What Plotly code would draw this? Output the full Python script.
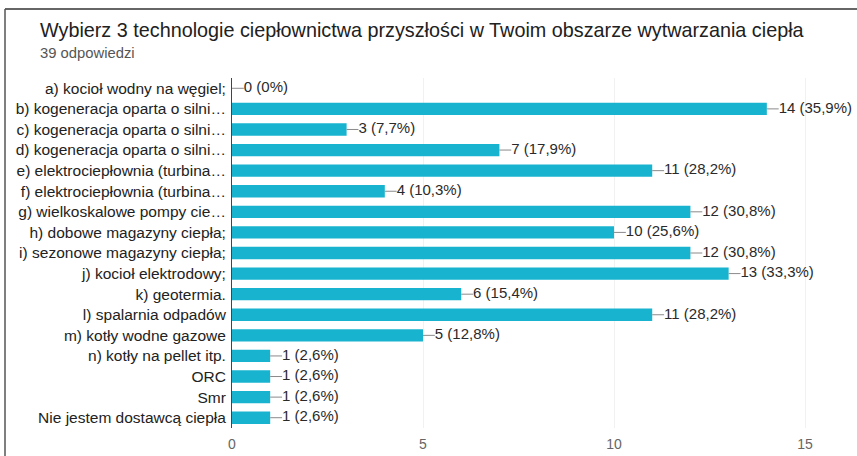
import plotly.graph_objects as go

title = "Wybierz 3 technologie ciepłownictwa przyszłości w Twoim obszarze wytwarzania ciepła"
subtitle = "39 odpowiedzi"
total = 39

categories = [
    "a) kocioł wodny na węgiel;",
    "b) kogeneracja oparta o silni…",
    "c) kogeneracja oparta o silni…",
    "d) kogeneracja oparta o silni…",
    "e) elektrociepłownia (turbina…",
    "f) elektrociepłownia (turbina…",
    "g) wielkoskalowe pompy cie…",
    "h) dobowe magazyny ciepła;",
    "i) sezonowe magazyny ciepła;",
    "j) kocioł elektrodowy;",
    "k) geotermia.",
    "l) spalarnia odpadów",
    "m) kotły wodne gazowe",
    "n) kotły na pellet itp.",
    "ORC",
    "Smr",
    "Nie jestem dostawcą ciepła",
]
values = [0, 14, 3, 7, 11, 4, 12, 10, 12, 13, 6, 11, 5, 1, 1, 1, 1]
x_ticks = [0, 5, 10, 15]


def pct(v):
    p = round(v / total * 100, 1)
    s = str(int(p)) if p == int(p) else "%.1f" % p
    return s.replace(".", ",")


labels = [f"{v} ({pct(v)}%)" for v in values]

BAR = "#18b4cf"
FONT = "Liberation Sans"

L, R, T, B = 232, 0, 78, 28
W, H = 857, 456
PW, PH = W - L - R, H - T - B

fig = go.Figure()
fig.add_trace(go.Bar(
    x=values, y=categories, orientation="h",
    marker=dict(color=BAR, line=dict(width=0)),
    width=0.6, hoverinfo="skip",
))

lead = 0.31
lx, ly = [], []
for c, v in zip(categories, values):
    lx += [v, v + lead, None]
    ly += [c, c, None]
fig.add_trace(go.Scatter(
    x=lx, y=ly, mode="lines",
    line=dict(color="#8a8a8a", width=1), hoverinfo="skip",
))
fig.add_trace(go.Scatter(
    x=[v + lead for v in values], y=categories, mode="text",
    text=labels, textposition="middle right",
    textfont=dict(family=FONT, size=15, color="#2a2a2a"),
    cliponaxis=False, hoverinfo="skip",
))

fig.update_layout(
    width=W, height=H,
    margin=dict(l=L, r=R, t=T, b=B, autoexpand=False),
    paper_bgcolor="white", plot_bgcolor="white",
    showlegend=False,
    font=dict(family=FONT, color="#222"),
)
fig.update_xaxes(
    range=[0, 16.36], tickvals=x_ticks, ticktext=[str(t) for t in x_ticks],
    showgrid=True, gridcolor="#f1f1f1", gridwidth=1,
    zeroline=False, showline=False, automargin=False,
    tickfont=dict(family=FONT, size=14, color="#666"),
    ticklabelstandoff=6,
)
fig.update_yaxes(
    range=[len(categories) - 0.5, -0.5], showgrid=False, zeroline=False,
    showline=True, linecolor="#444", linewidth=1, automargin=False,
    tickfont=dict(family=FONT, size=15.5, color="#222"),
    ticklabelstandoff=2,
)

# title and subtitle
tx = (38 - L) / PW
fig.add_annotation(
    xref="paper", yref="paper", x=tx, y=1 + (T - 30) / PH,
    text=title, showarrow=False, xanchor="left", yanchor="middle",
    font=dict(family=FONT, size=19.8, color="#212121"),
)
fig.add_annotation(
    xref="paper", yref="paper", x=tx, y=1 + (T - 53) / PH,
    text=subtitle, showarrow=False, xanchor="left", yanchor="middle",
    font=dict(family=FONT, size=14.8, color="#555"),
)

# outer frame (top and left edges)
fx0 = (5 - L) / PW
fy_top = 1 + (T - 9) / PH
fy_bot = -(B + 5) / PH
fig.add_shape(type="line", xref="paper", yref="paper",
              x0=fx0, x1=1.01, y0=fy_top, y1=fy_top,
              line=dict(color="#333", width=1.5))
fig.add_shape(type="line", xref="paper", yref="paper",
              x0=fx0, x1=fx0, y0=fy_top, y1=fy_bot,
              line=dict(color="#555", width=1.5))

fig.write_html("out.html", config={"displayModeBar": False},
               post_script="document.body.style.margin='0';")
